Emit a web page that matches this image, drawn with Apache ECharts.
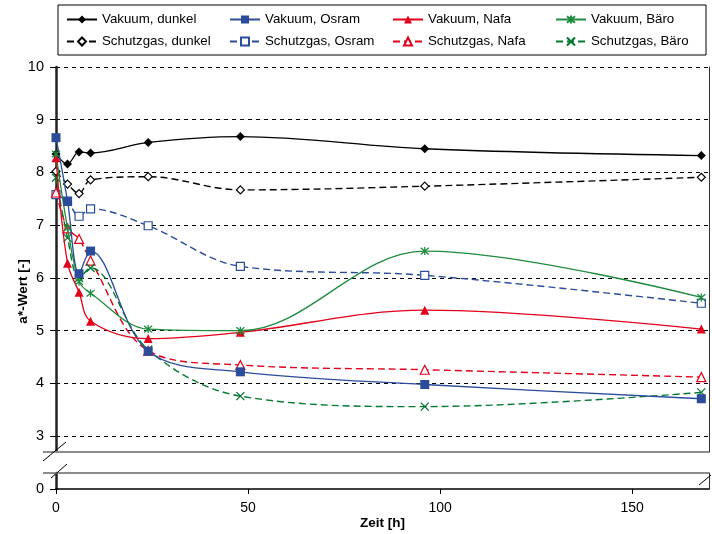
<!DOCTYPE html>
<html>
<head>
<meta charset="utf-8">
<script src="https://cdn.jsdelivr.net/npm/echarts@6.0.0/dist/echarts.min.js"></script>
<style>
  html, body { margin: 0; padding: 0; background: #fff; }
  #main { width: 712px; height: 534px; }
</style>
</head>
<body>
<div id="main"></div>
<script>
// Zeitpunkte [h]
var hours = [0, 3, 6, 9, 24, 48, 96, 168];

// a*-Werte
var vakDunkel = [8.35, 8.16, 8.39, 8.37, 8.57, 8.68, 8.45, 8.32];
var schDunkel = [8.02, 7.78, 7.60, 7.86, 7.92, 7.67, 7.74, 7.91];
var vakOsram  = [8.66, 7.46, 6.08, 6.51, 4.61, 4.22, 3.98, 3.71];
var schOsram  = [7.58, 7.45, 7.17, 7.31, 6.99, 6.22, 6.05, 5.52];
var vakNafa   = [8.28, 6.28, 5.73, 5.18, 4.85, 4.97, 5.39, 5.03];
var schNafa   = [7.62, 6.94, 6.74, 6.33, 4.62, 4.35, 4.26, 4.12];
var vakBaero  = [8.35, 6.95, 5.93, 5.71, 5.03, 5.00, 6.51, 5.63];
var schBaero  = [7.90, 6.76, 6.00, 6.19, 4.64, 3.76, 3.56, 3.83];

var xTicks = [0, 50, 100, 150];
var yTicksTop = [3, 4, 5, 6, 7, 8, 9, 10];
var yTicksBottom = [0];

var FONT = "Liberation Sans";
var BLACK = "#000000", BLUE = "#2B4C9B", RED = "#E3001B", GREEN = "#1F8B3E", DGREEN = "#00782F";

var STAR = "path://M0,0L10,10M10,0L0,10M5,-1L5,11";
var CROSS = "path://M0,0L10,10M10,0L0,10";

function pairs(vals) {
  return hours.map(function (h, i) { return [h, vals[i]]; });
}

function line(name, vals, color, dashed, symbol, size, open) {
  var stroked = symbol.indexOf("path://") === 0;
  return {
    name: name,
    type: "line",
    xAxisIndex: 0,
    yAxisIndex: 0,
    data: pairs(vals),
    smooth: 0.35,
    symbol: symbol,
    symbolSize: size,
    showAllSymbol: true,
    lineStyle: { color: color, width: dashed ? 1.4 : 1.3, type: dashed ? [7, 4] : "solid" },
    itemStyle: {
      color: open ? "#fff" : color,
      borderColor: color,
      borderWidth: stroked ? 1.3 : (open ? 1.2 : 0)
    },
    emphasis: { disabled: true },
    z: dashed ? 3 : 4
  };
}

var series = [
  line("Vakuum, dunkel", vakDunkel, BLACK, false, "diamond", 9, false),
  line("Schutzgas, dunkel", schDunkel, BLACK, true, "diamond", 8, true),
  line("Vakuum, Osram", vakOsram, BLUE, false, "rect", 9, false),
  line("Schutzgas, Osram", schOsram, BLUE, true, "rect", 8, true),
  line("Vakuum, Nafa", vakNafa, RED, false, "triangle", 9, false),
  line("Schutzgas, Nafa", schNafa, RED, true, "triangle", 9, true),
  line("Vakuum, Bäro", vakBaero, GREEN, false, STAR, 8, false),
  line("Schutzgas, Bäro", schBaero, DGREEN, true, CROSS, 8, false)
];

function legendCol(left, names) {
  return {
    orient: "vertical",
    left: left,
    top: 8,
    itemWidth: 30,
    itemHeight: 10,
    itemGap: 9,
    data: names,
    selectedMode: false,
    textStyle: { fontFamily: FONT, fontSize: 13.3, color: "#000" }
  };
}

var labelStyle = { fontFamily: FONT, fontSize: 14.5, color: "#000", margin: 12 };
var nameStyle = { fontFamily: FONT, fontSize: 13.5, fontWeight: "bold", color: "#000" };

var chart = echarts.init(document.getElementById("main"));
chart.setOption({
  animation: false,
  backgroundColor: "#fff",
  textStyle: { fontFamily: FONT },
  grid: [
    { left: 56, right: 3, top: 67, bottom: 82, containLabel: false, outerBoundsMode: "none" },
    { left: 56, right: 3, top: 473, bottom: 45, containLabel: false, outerBoundsMode: "none" }
  ],
  legend: [
    legendCol(61, ["Vakuum, dunkel", "Schutzgas, dunkel"]),
    legendCol(224, ["Vakuum, Osram", "Schutzgas, Osram"]),
    legendCol(387, ["Vakuum, Nafa", "Schutzgas, Nafa"]),
    legendCol(550, ["Vakuum, Bäro", "Schutzgas, Bäro"])
  ],
  xAxis: [{
    gridIndex: 0,
    type: "value",
    min: 0,
    max: 170,
    show: false
  }, {
    gridIndex: 1,
    type: "value",
    min: 0,
    max: 170,
    interval: 50,
    name: "Zeit [h]",
    nameLocation: "middle",
    nameGap: 27,
    nameMoveOverlap: false,
    nameTextStyle: nameStyle,
    axisLine: { show: true, onZero: false, lineStyle: { color: "#000", width: 1.5 } },
    axisTick: { show: true, inside: false, length: 5, customValues: xTicks, lineStyle: { color: "#000" } },
    axisLabel: Object.assign({ customValues: xTicks }, labelStyle, { fontSize: 14 }),
    splitLine: { show: false }
  }],
  yAxis: [{
    gridIndex: 0,
    type: "value",
    min: 2.7,
    max: 10,
    minInterval: 1,
    maxInterval: 1,
    splitNumber: 7,
    name: "a*-Wert [-]",
    nameLocation: "middle",
    nameGap: 26,
    nameMoveOverlap: false,
    nameTextStyle: Object.assign({ padding: [0, 64, 0, 0] }, nameStyle),
    axisLine: { show: true, lineStyle: { color: "#222", width: 2.5 } },
    axisTick: { show: true, length: 6, customValues: yTicksTop, lineStyle: { color: "#000" } },
    axisLabel: Object.assign({ customValues: yTicksTop }, labelStyle),
    splitLine: { show: true, lineStyle: { color: "#000", type: [4, 4], width: 1 } }
  }, {
    gridIndex: 0,
    type: "value",
    position: "right",
    min: 2.7,
    max: 10,
    axisLine: { show: true, lineStyle: { color: "#333", width: 1 } },
    axisTick: { show: false },
    axisLabel: { show: false },
    splitLine: { show: false }
  }, {
    gridIndex: 1,
    type: "value",
    min: 0,
    max: 0.3,
    axisLine: { show: true, lineStyle: { color: "#222", width: 2.5 } },
    axisTick: { show: true, length: 6, customValues: yTicksBottom, lineStyle: { color: "#000" } },
    axisLabel: Object.assign({ customValues: yTicksBottom }, labelStyle),
    splitLine: { show: false }
  }, {
    gridIndex: 1,
    type: "value",
    position: "right",
    min: 0,
    max: 0.3,
    axisLine: { show: true, lineStyle: { color: "#333", width: 1 } },
    axisTick: { show: false },
    axisLabel: { show: false },
    splitLine: { show: false }
  }],
  series: series,
  graphic: [
    // Achsenbruch
    { type: "line", shape: { x1: 43, y1: 452, x2: 709, y2: 452 }, style: { stroke: "#8c8c8c", lineWidth: 2 }, z: 50 },
    { type: "line", shape: { x1: 43, y1: 473, x2: 709, y2: 473 }, style: { stroke: "#8c8c8c", lineWidth: 2 }, z: 50 },
    { type: "line", shape: { x1: 43, y1: 461, x2: 66, y2: 442 }, style: { stroke: "#000", lineWidth: 1 }, z: 100 },
    { type: "line", shape: { x1: 51, y1: 478, x2: 67, y2: 464 }, style: { stroke: "#000", lineWidth: 1 }, z: 100 },
    { type: "line", shape: { x1: 699, y1: 485, x2: 711, y2: 475 }, style: { stroke: "#000", lineWidth: 1 }, z: 100 },
    // Legendenrahmen
    { type: "rect", shape: { x: 58, y: 5, width: 648, height: 50 }, style: { fill: "none", stroke: "#000", lineWidth: 1 }, z: -1 }
  ]
});
</script>
</body>
</html>
